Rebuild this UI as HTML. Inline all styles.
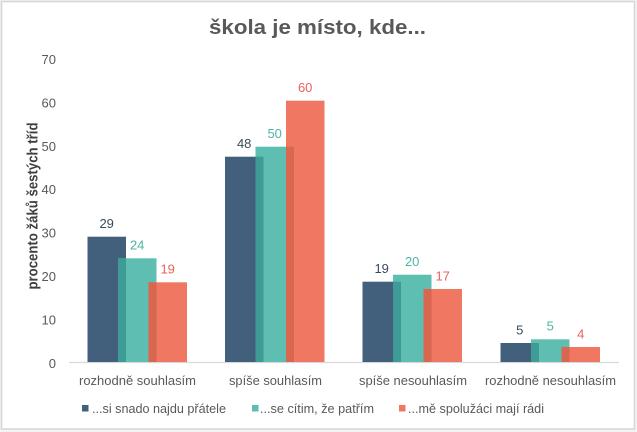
<!DOCTYPE html>
<html><head><meta charset="utf-8"><style>
html,body{margin:0;padding:0;background:#fff;}
svg{display:block;font-family:"Liberation Sans",sans-serif;}
</style></head><body>
<svg width="637" height="432" viewBox="0 0 637 432" xmlns="http://www.w3.org/2000/svg">
<rect x="0" y="0" width="637" height="432" fill="#f3f3f3"/>
<rect x="1.5" y="1.5" width="633" height="427.5" fill="#ffffff" stroke="#d6d6d6" stroke-width="1.5"/>
<text x="317.5" y="34" text-anchor="middle" font-size="20.5" font-weight="bold" fill="#595959" textLength="217" lengthAdjust="spacingAndGlyphs">škola je místo, kde...</text>
<text transform="translate(37.5,206) rotate(-90)" text-anchor="middle" font-size="14.5" font-weight="bold" fill="#404040" textLength="167" lengthAdjust="spacingAndGlyphs">procento žáků šestých tříd</text>
<g font-size="13" fill="#595959" text-anchor="end">
<text x="56" y="64">70</text>
<text x="56" y="107.4">60</text>
<text x="56" y="150.8">50</text>
<text x="56" y="194.2">40</text>
<text x="56" y="237.6">30</text>
<text x="56" y="281">20</text>
<text x="56" y="324.4">10</text>
<text x="56" y="367.8">0</text>
</g>
<line x1="69" y1="362.5" x2="619" y2="362.5" stroke="#d9d9d9" stroke-width="1.2"/>
<!-- group 1 -->
<g>
<rect x="87.5" y="236.7" width="38.5" height="125.3" fill="#42607c"/>
<rect x="118" y="258.3" width="38.5" height="103.7" fill="#5fbeb2"/>
<rect x="118" y="258.3" width="8" height="103.7" fill="#3f9b95"/>
<rect x="148.5" y="282.3" width="38.5" height="79.7" fill="#f07862"/>
<rect x="148.5" y="282.3" width="8" height="79.7" fill="#d9664f"/>
</g>
<!-- group 2 -->
<g>
<rect x="225" y="156.7" width="38.5" height="205.3" fill="#42607c"/>
<rect x="255.5" y="146.7" width="38.5" height="215.3" fill="#5fbeb2"/>
<rect x="255.5" y="156.7" width="8" height="205.3" fill="#3f9b95"/>
<rect x="286" y="100.7" width="38.5" height="261.3" fill="#f07862"/>
<rect x="286" y="146.7" width="8" height="215.3" fill="#d9664f"/>
</g>
<!-- group 3 -->
<g>
<rect x="362.5" y="281.7" width="38.5" height="80.3" fill="#42607c"/>
<rect x="393" y="274.7" width="38.5" height="87.3" fill="#5fbeb2"/>
<rect x="393" y="281.7" width="8" height="80.3" fill="#3f9b95"/>
<rect x="423.5" y="289" width="38.5" height="73" fill="#f07862"/>
<rect x="423.5" y="289" width="8" height="73" fill="#d9664f"/>
</g>
<!-- group 4 -->
<g>
<rect x="500.5" y="343" width="38.5" height="19" fill="#42607c"/>
<rect x="531" y="339.3" width="38.5" height="22.7" fill="#5fbeb2"/>
<rect x="531" y="343" width="8" height="19" fill="#3f9b95"/>
<rect x="561.5" y="347" width="38.5" height="15" fill="#f07862"/>
<rect x="561.5" y="347" width="8" height="15" fill="#d9664f"/>
</g>
<!-- data labels -->
<g font-size="13" text-anchor="middle">
<text x="106.7" y="228" fill="#3a4a5c">29</text>
<text x="137.2" y="249.5" fill="#4fb3a6">24</text>
<text x="167.7" y="273.5" fill="#e8625a">19</text>
<text x="244.2" y="148" fill="#3a4a5c">48</text>
<text x="274.7" y="138" fill="#4fb3a6">50</text>
<text x="305.2" y="92" fill="#e8625a">60</text>
<text x="381.7" y="273" fill="#3a4a5c">19</text>
<text x="412.2" y="266" fill="#4fb3a6">20</text>
<text x="442.7" y="280.5" fill="#e8625a">17</text>
<text x="519.7" y="334.5" fill="#3a4a5c">5</text>
<text x="550.2" y="330.5" fill="#4fb3a6">5</text>
<text x="580.7" y="338.5" fill="#e8625a">4</text>
</g>
<!-- category labels -->
<g font-size="13" fill="#595959" text-anchor="middle">
<text x="137.5" y="385" textLength="117" lengthAdjust="spacingAndGlyphs">rozhodně souhlasím</text>
<text x="275.5" y="385" textLength="93" lengthAdjust="spacingAndGlyphs">spíše souhlasím</text>
<text x="413" y="385" textLength="108" lengthAdjust="spacingAndGlyphs">spíše nesouhlasím</text>
<text x="550.5" y="385" textLength="131" lengthAdjust="spacingAndGlyphs">rozhodně nesouhlasím</text>
</g>
<!-- legend -->
<g font-size="13" fill="#595959">
<rect x="82" y="405" width="6.5" height="6.5" fill="#42607c"/>
<text x="92" y="413" textLength="134" lengthAdjust="spacingAndGlyphs">...si snado najdu přátele</text>
<rect x="252" y="405" width="6.5" height="6.5" fill="#5fbeb2"/>
<text x="260" y="413" textLength="114" lengthAdjust="spacingAndGlyphs">...se cítim, že patřím</text>
<rect x="399" y="405" width="6.5" height="6.5" fill="#f07862"/>
<text x="408" y="413" textLength="136" lengthAdjust="spacingAndGlyphs">...mě spolužáci mají rádi</text>
</g>
</svg>
</body></html>
